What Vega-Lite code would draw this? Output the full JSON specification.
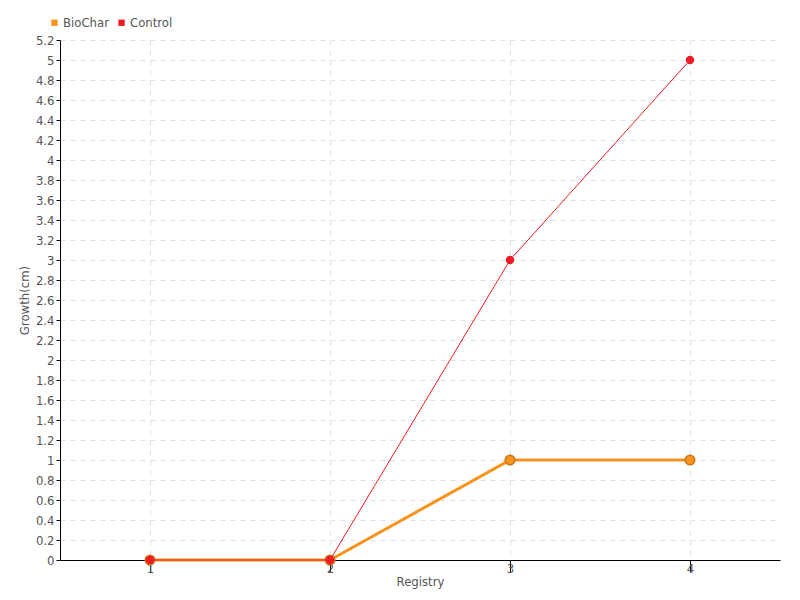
{
  "$schema": "https://vega.github.io/schema/vega-lite/v6.json",
  "width": 720,
  "height": 520,
  "autosize": {"type": "none"},
  "padding": {"left": 60, "top": 40, "right": 20, "bottom": 40},
  "background": "white",
  "config": {
    "font": "DejaVu Sans Condensed, Roboto, sans-serif",
    "view": {"stroke": null},
    "axis": {
      "labelFont": "DejaVu Sans Condensed, Roboto, sans-serif",
      "titleFont": "DejaVu Sans Condensed, Roboto, sans-serif",
      "labelColor": "#555",
      "titleColor": "#555",
      "labelFontSize": 13,
      "titleFontSize": 13,
      "titleFontWeight": "normal",
      "domainColor": "#000",
      "tickColor": "#000",
      "gridColor": "#e0e0e0",
      "gridDash": [5, 5]
    },
    "legend": {
      "labelFont": "DejaVu Sans Condensed, Roboto, sans-serif",
      "labelFontSize": 13,
      "labelColor": "#555"
    }
  },
  "data": {
    "values": [
      {"registry": "1", "series": "BioChar", "growth": 0},
      {"registry": "2", "series": "BioChar", "growth": 0},
      {"registry": "3", "series": "BioChar", "growth": 1},
      {"registry": "4", "series": "BioChar", "growth": 1},
      {"registry": "1", "series": "Control", "growth": 0},
      {"registry": "2", "series": "Control", "growth": 0},
      {"registry": "3", "series": "Control", "growth": 3},
      {"registry": "4", "series": "Control", "growth": 5}
    ]
  },
  "encoding": {
    "x": {
      "field": "registry",
      "type": "ordinal",
      "scale": {"type": "point", "padding": 0.5},
      "axis": {
        "title": "Registry",
        "labelAngle": 0,
        "grid": true,
        "tickSize": 12,
        "labelPadding": -10,
        "titlePadding": 0
      }
    },
    "y": {
      "field": "growth",
      "type": "quantitative",
      "scale": {"domain": [0, 5.2], "nice": false},
      "axis": {
        "title": "Growth(cm)",
        "values": [0,0.2,0.4,0.6,0.8,1,1.2,1.4,1.6,1.8,2,2.2,2.4,2.6,2.8,3,3.2,3.4,3.6,3.8,4,4.2,4.4,4.6,4.8,5,5.2],
        "format": "~g",
        "tickSize": 4,
        "labelPadding": 2,
        "titlePadding": 4,
        "grid": true
      }
    },
    "color": {
      "field": "series",
      "type": "nominal",
      "scale": {"domain": ["BioChar", "Control"], "range": ["#f7941d", "#ed1c24"]},
      "legend": {
        "title": null,
        "orient": "none",
        "legendX": -12,
        "legendY": -24,
        "direction": "horizontal",
        "symbolType": "square",
        "symbolSize": 40,
        "symbolOpacity": 1,
        "symbolStrokeWidth": 0,
        "labelOffset": 2,
        "columnPadding": 6
      }
    }
  },
  "layer": [
    {
      "transform": [{"filter": "datum.series === 'BioChar'"}],
      "mark": {"type": "line", "strokeWidth": 3}
    },
    {
      "transform": [{"filter": "datum.series === 'BioChar'"}],
      "mark": {"type": "point", "filled": true, "size": 90, "opacity": 1, "stroke": "#c8741a", "strokeWidth": 1.5}
    },
    {
      "transform": [{"filter": "datum.series === 'Control'"}],
      "mark": {"type": "line", "strokeWidth": 1}
    },
    {
      "transform": [{"filter": "datum.series === 'Control'"}],
      "mark": {"type": "point", "filled": true, "size": 70, "opacity": 1}
    }
  ]
}
